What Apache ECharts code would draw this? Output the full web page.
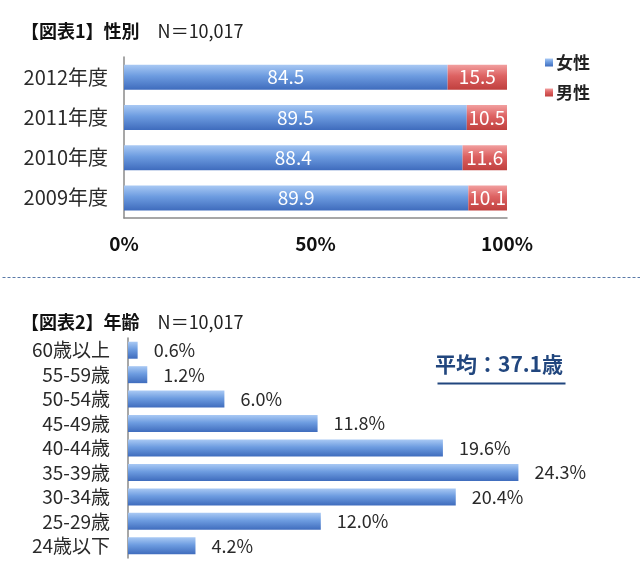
<!DOCTYPE html>
<html>
<head>
<meta charset="utf-8">
<script src="https://cdn.jsdelivr.net/npm/echarts@6/dist/echarts.min.js"></script>
<style>
html,body{margin:0;padding:0;background:#fff;}
#main{width:640px;height:574px;}
</style>
</head>
<body>
<div id="main"></div>
<script>
// ---- Data ----
const yearCategories = ['2012年度', '2011年度', '2010年度', '2009年度'];
const femaleShare = [84.5, 89.5, 88.4, 89.9];
const maleShare = [15.5, 10.5, 11.6, 10.1];
const shareTicks = [0, 50, 100];

const ageCategories = ['60歳以上', '55-59歳', '50-54歳', '45-49歳', '40-44歳', '35-39歳', '30-34歳', '25-29歳', '24歳以下'];
const ageShare = [0.6, 1.2, 6.0, 11.8, 19.6, 24.3, 20.4, 12.0, 4.2];

const title1 = '【図表1】性別';
const title2 = '【図表2】年齢';
const sampleSize = 'N＝10,017';
const averageAge = '平均：37.1歳';

// ---- Styles ----
const FONT = '"Noto Sans CJK JP", "Noto Sans", sans-serif';
const blueGrad = new echarts.graphic.LinearGradient(0, 0, 0, 1, [
  {offset: 0, color: '#a9c9f4'},
  {offset: 0.45, color: '#6d9ce0'},
  {offset: 1, color: '#3f6cbd'}
]);
const redGrad = new echarts.graphic.LinearGradient(0, 0, 0, 1, [
  {offset: 0, color: '#f2a0a0'},
  {offset: 0.45, color: '#dd6262'},
  {offset: 1, color: '#c0403e'}
]);

const chart = echarts.init(document.getElementById('main'), null, {renderer: 'canvas'});

const titleRich = {
  b: {fontSize: 18, fontWeight: 'bold', color: '#111', fontFamily: FONT},
  n: {fontSize: 18, fontWeight: 'normal', color: '#222', fontFamily: FONT, padding: [0, 0, 0, 18]}
};

const option = {
  backgroundColor: '#fff',
  animation: false,
  textStyle: {fontFamily: FONT},
  title: [
    {
      left: 16, top: 17,
      text: '{b|' + title1 + '}{n|' + sampleSize + '}',
      textStyle: {rich: titleRich}
    },
    {
      left: 16, top: 308,
      text: '{b|' + title2 + '}{n|' + sampleSize + '}',
      textStyle: {rich: titleRich}
    }
  ],
  legend: {
    data: ['女性', '男性'],
    orient: 'vertical',
    left: 540, top: 49,
    itemWidth: 8, itemHeight: 8,
    itemGap: 13,
    icon: 'rect',
    textStyle: {fontSize: 17, fontWeight: 'bold', color: '#222', fontFamily: FONT, padding: [0, 0, 0, -2]}
  },
  grid: [
    {left: 124, right: 133, top: 57, height: 161},
    {left: 128, right: 30, top: 338, height: 220}
  ],
  xAxis: [
    {
      gridIndex: 0, type: 'value', min: shareTicks[0], max: shareTicks[shareTicks.length - 1],
      interval: shareTicks[1] - shareTicks[0],
      axisLine: {show: true, lineStyle: {color: '#8a8a8a', width: 1.5}},
      axisTick: {show: false},
      splitLine: {show: false},
      axisLabel: {formatter: '{value}%', fontSize: 19, fontWeight: 'bold', color: '#111', margin: 16, fontFamily: FONT}
    },
    {
      gridIndex: 1, type: 'value', min: 0, max: 30,
      show: false
    }
  ],
  yAxis: [
    {
      gridIndex: 0, type: 'category', data: yearCategories, inverse: true,
      axisLine: {show: true, lineStyle: {color: '#8a8a8a', width: 1.5}},
      axisTick: {show: false},
      axisLabel: {interval: 0, fontSize: 20, color: '#2a2a2a', margin: 16, fontFamily: FONT}
    },
    {
      gridIndex: 1, type: 'category', data: ageCategories, inverse: true,
      axisLine: {show: true, lineStyle: {color: '#8a8a8a', width: 1.5}},
      axisTick: {show: false},
      axisLabel: {interval: 0, fontSize: 19, color: '#2a2a2a', margin: 18, fontFamily: FONT}
    }
  ],
  series: [
    {
      name: '女性', type: 'bar', stack: 'gender', xAxisIndex: 0, yAxisIndex: 0,
      data: femaleShare, barWidth: 25,
      itemStyle: {color: blueGrad},
      label: {show: true, position: 'inside', color: '#fff', fontSize: 19, fontFamily: FONT, formatter: p => p.value.toFixed(1)}
    },
    {
      name: '男性', type: 'bar', stack: 'gender', xAxisIndex: 0, yAxisIndex: 0,
      data: maleShare, barWidth: 25,
      itemStyle: {color: redGrad},
      label: {show: true, position: 'inside', color: '#fff', fontSize: 19, fontFamily: FONT, formatter: p => p.value.toFixed(1)}
    },
    {
      name: '年齢', type: 'bar', xAxisIndex: 1, yAxisIndex: 1,
      data: ageShare, barWidth: 17,
      itemStyle: {color: blueGrad},
      label: {show: true, position: 'right', distance: 16, color: '#2a2a2a', fontSize: 18, fontFamily: FONT, formatter: p => p.value.toFixed(1) + '%'}
    }
  ],
  graphic: [
    {
      type: 'line', left: 0, top: 275,
      shape: {x1: 0, y1: 0, x2: 640, y2: 0},
      style: {stroke: '#5a7aa8', lineWidth: 1, lineDash: [3, 2]}
    },
    {
      type: 'group', left: 435, top: 354,
      children: [
        {
          type: 'text', left: 0, top: 0,
          style: {text: averageAge, fontSize: 21, fontWeight: 'bold', fill: '#21467e', fontFamily: FONT}
        },
        {
          type: 'line', left: 0, top: 27,
          shape: {x1: 0, y1: 0, x2: 128, y2: 0},
          style: {stroke: '#21467e', lineWidth: 2}
        }
      ]
    }
  ]
};
chart.setOption(option);
</script>
</body>
</html>
